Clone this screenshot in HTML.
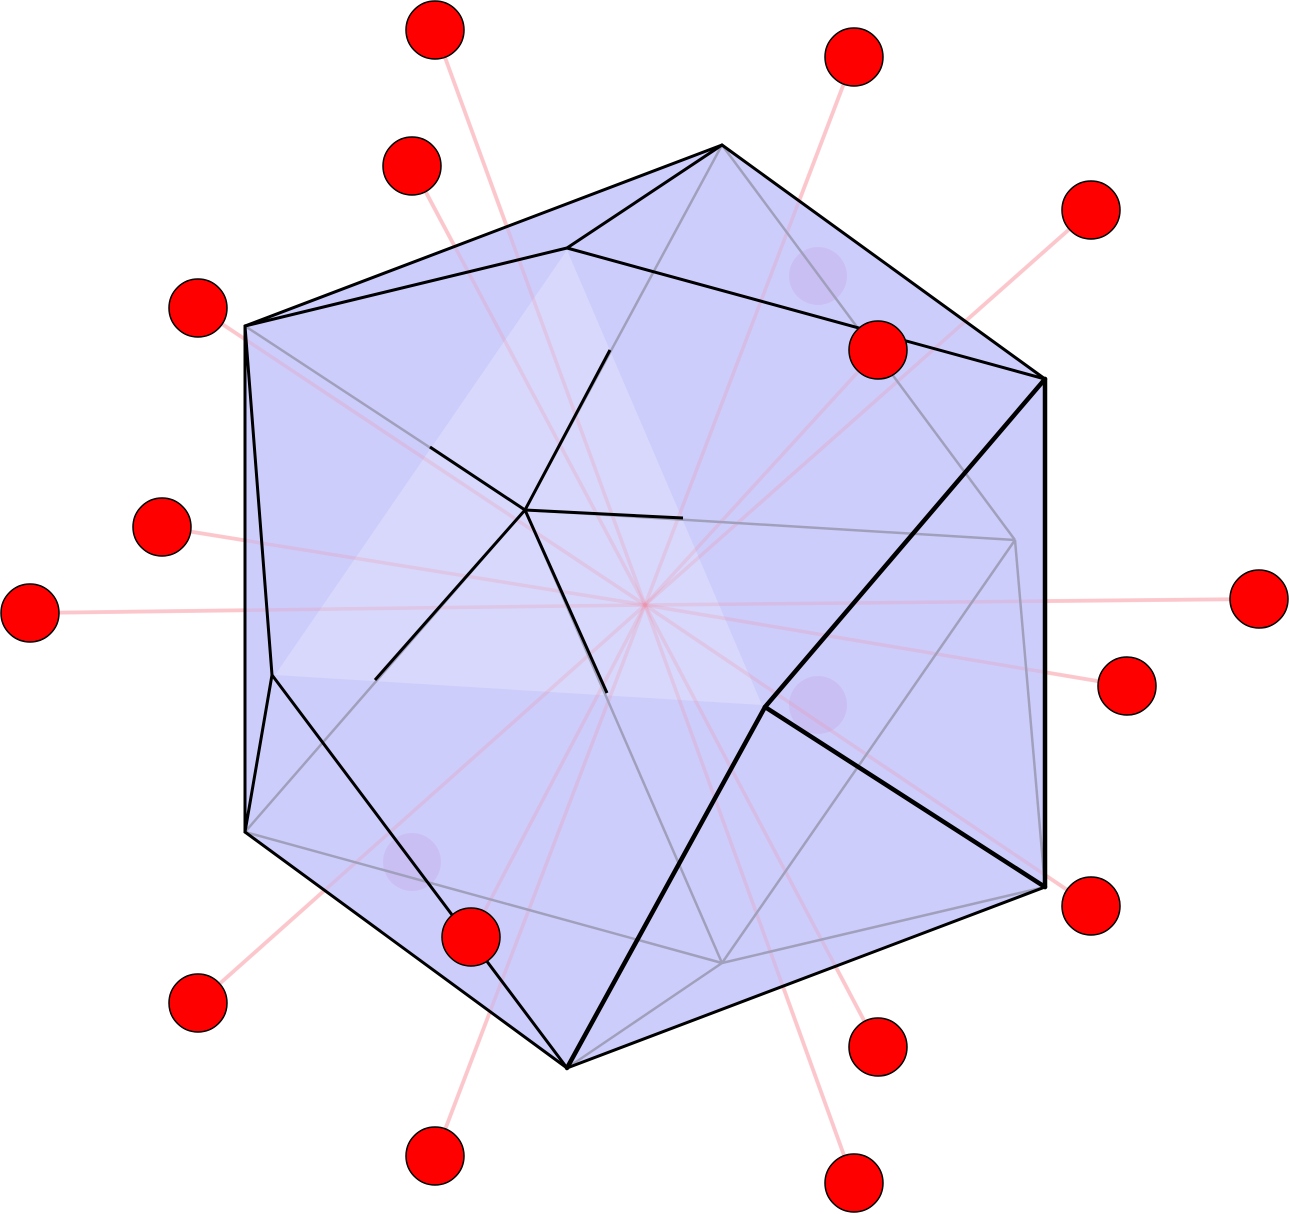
<!DOCTYPE html>
<html><head><meta charset="utf-8"><style>html,body{margin:0;padding:0;background:#fff}svg{display:block}</style></head>
<body>
<svg id="chart" width="1290" height="1214" viewBox="0 0 1290 1214" xmlns="http://www.w3.org/2000/svg">
<g id="spokes"></g>
<g id="body"></g>
<g id="back"></g>
<g id="front"></g>
<g id="balls"></g>
</svg>
<script>
const center = [645, 605];
const ballsX = [435, 854, 412, 1091, 198, 878, 162, 30, 1259, 1127, 1091, 471, 198, 878, 435, 854];
const ballsY = [30, 57, 166, 210, 308, 350, 527, 613, 599, 686, 906, 937, 1003, 1047, 1156, 1183];
const ghostX = [818, 818, 412];
const ghostY = [276, 705, 862];
const vertNames = ['A','B','C','D','E','F','G','H','I','J','K','L'];
const vertX = [722, 567, 245, 1045, 525, 1015, 272, 765, 245, 1045, 722, 567];
const vertY = [145, 248, 326, 379, 510, 540, 675, 707, 832, 887, 963, 1068];
const outline = ['A','D','J','L','I','C'];
const frontEdges = [['A','B'],['B','C'],['C','A'],['B','D'],['A','D'],['C','G'],['G','I'],['C','I'],['G','L'],['I','L'],['J','L']];
const thickEdges = [['D','H'],['H','J'],['H','L'],['D','J']];
const backEdges = [['A','F'],['F','K'],['I','K'],['F','J'],['K','J'],['K','L'],['E','A'],['E','C'],['E','F'],['E','I'],['E','K']];
const stubs = [[610,350],[430,447],[683,518],[375,680],[607,693]];
const NS='http://www.w3.org/2000/svg';
function P(n){const i=vertNames.indexOf(n);return [vertX[i],vertY[i]];}
function mk(tag,parent,attrs){const e=document.createElementNS(NS,tag);for(const k in attrs)e.setAttribute(k,attrs[k]);document.getElementById(parent).appendChild(e);return e;}
for(let i=0;i<ballsX.length;i++){
  const l=mk('line','spokes',{x1:center[0],y1:center[1],x2:ballsX[i],y2:ballsY[i],stroke:'#ffdada','stroke-width':4});
  
  
}
const poly=mk('polygon','body',{points:outline.map(n=>P(n).join(',')).join(' '),fill:'#cdcdfb'});


const lt=mk('polygon','body',{points:'567,250 275,675 762,705',fill:'#ffffff','fill-opacity':0.22});


for(let i=0;i<ghostX.length;i++){
  const c=mk('circle','body',{cx:ghostX[i],cy:ghostY[i],r:29,fill:'#c8b0e8','fill-opacity':0.45});
  
  
}
for(let i=0;i<ballsX.length;i++){
  const l=mk('line','back',{x1:center[0],y1:center[1],x2:ballsX[i],y2:ballsY[i],stroke:'#f090a8','stroke-width':3.5,'stroke-opacity':0.25});
  
  
}
backEdges.forEach(e=>{const a=P(e[0]),b=P(e[1]);
  const l=mk('line','back',{x1:a[0],y1:a[1],x2:b[0],y2:b[1],stroke:'#a0a0bc','stroke-width':2.5});
  
  
});
frontEdges.forEach(e=>{const a=P(e[0]),b=P(e[1]);
  const l=mk('line','front',{x1:a[0],y1:a[1],x2:b[0],y2:b[1],stroke:'#000','stroke-width':3,'stroke-linecap':'round'});
  
  
});
thickEdges.forEach(e=>{const a=P(e[0]),b=P(e[1]);
  const l=mk('line','front',{x1:a[0],y1:a[1],x2:b[0],y2:b[1],stroke:'#000','stroke-width':4.5,'stroke-linecap':'round'});
  
  
});
const E=P('E');
stubs.forEach(s=>{
  const l=mk('line','front',{x1:E[0],y1:E[1],x2:s[0],y2:s[1],stroke:'#000','stroke-width':3});
  
  
});
for(let i=0;i<ballsX.length;i++){
  const c=mk('circle','balls',{cx:ballsX[i],cy:ballsY[i],r:29,fill:'#ff0000',stroke:'#000','stroke-width':1.5});
  
  
}
</script>
</body></html>
